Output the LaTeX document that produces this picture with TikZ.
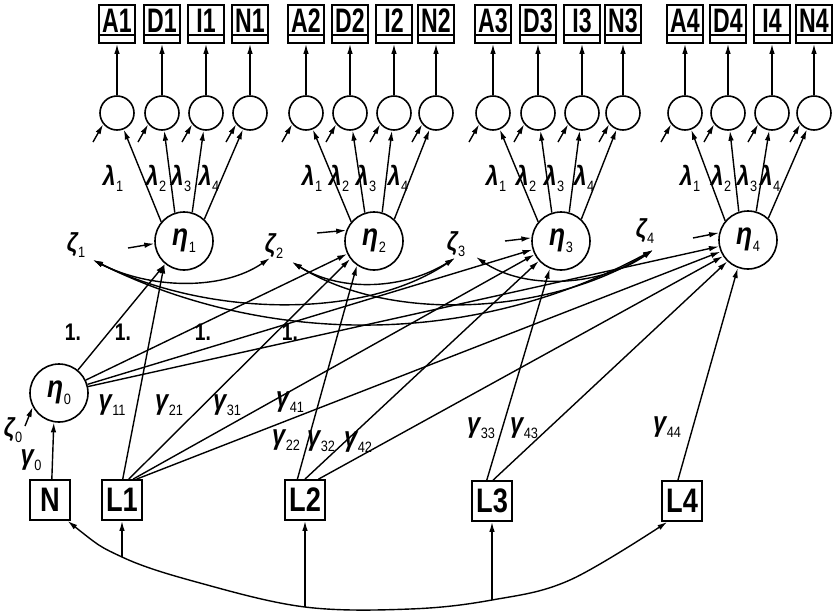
\documentclass[tikz,border=0pt]{standalone}
\usepackage{fontspec}
\usetikzlibrary{arrows.meta}
\newfontfamily\indfont[FakeStretch=0.68]{Liberation Sans}
\newfontfamily\exofont[FakeStretch=0.8]{Liberation Sans}
\newfontfamily\grkfont[FakeStretch=0.85]{Liberation Sans}
% Greek symbol with a small upright subscript: size, glyph, subscript size, subscript
\newcommand\gsym[4]{{\fontsize{#1}{#1}\selectfont\grkfont\bfseries\itshape #2\kern0.5pt%
  \raisebox{-0.22em}{\fontsize{#3}{#3}\selectfont\upshape\mdseries #4}}}

\begin{document}
\begin{tikzpicture}[x=1pt,y=1pt,
  hd/.tip={Latex[length=10pt,width=5.5pt]},
  arr/.style={-hd, line width=1.4pt},
  dbl/.style={hd-hd, line width=1.4pt},
  ind/.style={draw, rectangle, line width=1.8pt, minimum width=36pt, inner sep=0pt,
    text height=27.5pt, text depth=10.5pt,
    font=\indfont\bfseries\fontsize{34}{34}\selectfont,
    path picture={\draw[line width=1.8pt]
      ([yshift=8pt]path picture bounding box.south west) --
      ([yshift=8pt]path picture bounding box.south east);}},
  lat/.style={circle, draw, line width=1.6pt, minimum size=34pt, inner sep=0pt},
  eta/.style={circle, draw, line width=1.6pt, minimum size=58pt, inner sep=0pt},
  exo/.style={draw, rectangle, line width=1.8pt, minimum size=40pt, inner sep=0pt,
    font=\exofont\bfseries\fontsize{34}{34}\selectfont},
  lab/.style={inner sep=0pt},
  one/.style={inner sep=0pt, font=\exofont\bfseries\fontsize{24}{24}\selectfont}]

\useasboundingbox (0,0) rectangle (833,-614);

% indicators, their residual factors and error arrows
\foreach \x/\n in {117/A1,162/D1,206/I1,250/N1,
                   306/A2,350/D2,394/I2,436/N2,
                   493/A3,538/D3,582/I3,623/N3,
                   685/A4,728/D4,772/I4,814/N4}{
  \node[ind] (\n) at (\x,-24) {\n};
  \node[lat] (c\n) at (\x,-113) {};
  \draw[arr] (c\n) -- (\n);
  \draw[arr] ([shift={(-24,-29)}]c\n.center) -- (c\n.219);
}

% latent variables
\node[eta] (eta0) at (59,-393) {\gsym{31}{η}{15}{0}};
\node[eta] (eta1) at (184,-241) {\gsym{31}{η}{15}{1}};
\node[eta] (eta2) at (374,-241) {\gsym{31}{η}{15}{2}};
\node[eta] (eta3) at (561,-241) {\gsym{31}{η}{15}{3}};
\node[eta] (eta4) at (748,-240) {\gsym{31}{η}{15}{4}};

% loadings
\foreach \k/\a/\b/\c/\d in {1/A1/D1/I1/N1, 2/A2/D2/I2/N2, 3/A3/D3/I3/N3, 4/A4/D4/I4/N4}{
  \draw[arr] (eta\k.140) -- (c\a);
  \draw[arr] (eta\k.108) -- (c\b);
  \draw[arr] (eta\k.74) -- (c\c);
  \draw[arr] (eta\k.47) -- (c\d);
}
\foreach \x/\s [count=\i] in {113/1,156/2,181/3,209/4, 312/1,339/2,366/3,398/4,
                              496/1,526/2,554/3,584/4, 690/1,721/2,747/3,770/4}{
  \node[lab] (lam\i) at (\x,-178) {\gsym{27}{λ}{15}{\s}};
}

% exogenous variables
\node[exo] (N) at (50,-500) {N};
\node[exo] (L1) at (122,-500) {L1};
\node[exo] (L2) at (305,-500) {L2};
\node[exo] (L3) at (492,-501) {L3};
\node[exo] (L4) at (682,-501) {L4};

% paths from eta0
\draw[arr] (eta0) -- (eta1);
\draw[arr] (eta0) -- (eta2);
\draw[arr] (eta0) -- (eta3);
\draw[arr] (eta0) -- (eta4);
\node[one] (o1) at (73,-332) {1.};
\node[one] (o2) at (123,-332) {1.};
\node[one] (o3) at (203,-332) {1.};
\node[one] (o4) at (290,-332) {1.};

% regressions on L1..L4
\draw[arr] (L1.88) -- (eta1.229);
\draw[arr] (L1.72) -- (eta2.217);
\draw[arr] (L1.62) -- (eta3.207);
\draw[arr] (L1.55) -- (eta4.203);
\draw[arr] (L2.110) -- (eta2.235);
\draw[arr] (L2.90) -- (eta3.222);
\draw[arr] (L2.57) -- (eta4.213);
\draw[arr] (L3.104) -- (eta3.248);
\draw[arr] (L3.87) -- (eta4.226);
\draw[arr] (L4.101) -- (eta4.250);

\node[lab] (g11) at (112,-405) {\gsym{28}{γ}{15}{11}};
\node[lab] (g21) at (169,-405) {\gsym{28}{γ}{15}{21}};
\node[lab] (g31) at (227,-405) {\gsym{28}{γ}{15}{31}};
\node[lab] (g41) at (290,-402) {\gsym{28}{γ}{15}{41}};
\node[lab] (g22) at (286,-440) {\gsym{28}{γ}{15}{22}};
\node[lab] (g32) at (321,-441) {\gsym{28}{γ}{15}{32}};
\node[lab] (g42) at (358,-442) {\gsym{28}{γ}{15}{42}};
\node[lab] (g33) at (481,-428) {\gsym{28}{γ}{15}{33}};
\node[lab] (g43) at (524,-428) {\gsym{28}{γ}{15}{43}};
\node[lab] (g44) at (667,-427) {\gsym{28}{γ}{15}{44}};

% eta0 and its inputs
\draw[arr] (N.85) -- (eta0.260);
\node[lab] (g0) at (31,-460) {\gsym{28}{γ}{15}{0}};
\node[lab] (zeta0) at (13,-430) {\gsym{26}{ζ}{15}{0}};
\coordinate (z0a) at (25,-426);
\draw[arr] (z0a) -- (eta0.208);

% disturbances of eta1..eta4
\coordinate (d1) at (128,-248);
\coordinate (d2) at (317,-233);
\coordinate (d3) at (505,-241);
\coordinate (d4) at (693,-238);
\draw[arr] (d1) -- (eta1.185);
\draw[arr] (d2) -- (eta2.159);
\draw[arr] (d3) -- (eta3.174);
\draw[arr] (d4) -- (eta4.166);

\node[lab] (zeta1) at (76,-245) {\gsym{26}{ζ}{15}{1}};
\node[lab] (zeta2) at (274,-246) {\gsym{26}{ζ}{15}{2}};
\node[lab] (zeta3) at (456,-244) {\gsym{26}{ζ}{15}{3}};
\node[lab] (zeta4) at (645,-231) {\gsym{26}{ζ}{15}{4}};

% correlated disturbances
\coordinate (z1r) at (93,-260);
\coordinate (z2l) at (270,-258);
\coordinate (z2r) at (292,-262);
\coordinate (z3l) at (455,-258);
\coordinate (z3r) at (476,-257);
\coordinate (z4l) at (653,-250);
\draw[dbl] (z1r) .. controls (150,-289) and (222,-291) .. (z2l);
\draw[dbl] (z1r) .. controls (203,-315) and (360,-322) .. (z3l);
\draw[dbl] (z1r) .. controls (253,-340) and (460,-354) .. (z4l);
\draw[dbl] (z2r) .. controls (342,-293) and (405,-289) .. (z3l);
\draw[dbl] (z2r) .. controls (393,-325) and (553,-313) .. (z4l);
\draw[dbl] (z3r) .. controls (527,-292) and (603,-285) .. (z4l);

% correlations among the exogenous variables
\coordinate (b1) at (122,-557);
\coordinate (b2) at (305,-607);
\coordinate (b3) at (492,-600);
\draw[dbl] plot[smooth, tension=0.6] coordinates
  {(N.-50) (b1) (200,-583) (b2) (410,-609) (b3) (570,-580) (L4.-125)};
\draw[arr] (b1) -- (L1.south);
\draw[arr] (b2) -- (L2.south);
\draw[arr] (b3) -- (L3.south);

\end{tikzpicture}
\end{document}
